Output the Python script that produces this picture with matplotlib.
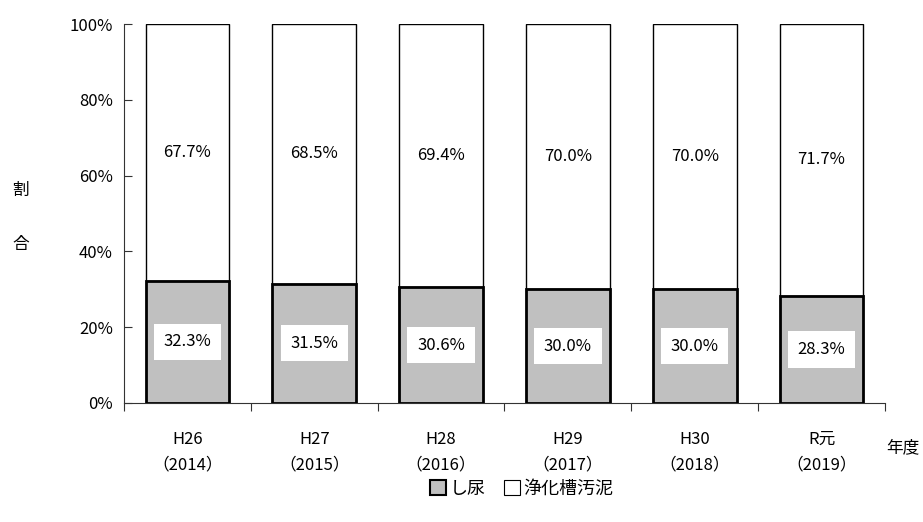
import matplotlib.pyplot as plt
import matplotlib.ticker as mticker
from matplotlib.patches import Patch

plt.rcParams['font.family'] = ['Noto Sans CJK JP', 'DejaVu Sans']

years = ["H26\n（2014）", "H27\n（2015）", "H28\n（2016）", "H29\n（2017）", "H30\n（2018）", "R元\n（2019）"]
shinyo = [32.3, 31.5, 30.6, 30.0, 30.0, 28.3]
jokaso = [67.7, 68.5, 69.4, 70.0, 70.0, 71.7]

fig = plt.figure(figsize=(9.23, 5.22), dpi=100)
ax = fig.add_axes([0.1343, 0.228, 0.8245, 0.726])

x = range(len(years))
ax.bar(x, shinyo, width=0.66, color="#c0c0c0", edgecolor="black", linewidth=2, zorder=3)
ax.bar(x, jokaso, width=0.66, bottom=shinyo, color="white", edgecolor="black", linewidth=1, zorder=2)

for i in x:
    ax.text(i, shinyo[i] / 2, f"{shinyo[i]:.1f}%", ha="center", va="center", fontsize=12, zorder=4,
            bbox=dict(facecolor="white", edgecolor="none", pad=7))
    ax.text(i, shinyo[i] + jokaso[i] / 2, f"{jokaso[i]:.1f}%", ha="center", va="center", fontsize=12, zorder=4)

ax.set_xlim(-0.5, len(years) - 0.5)
ax.set_ylim(0, 100)
ax.yaxis.set_major_locator(mticker.MultipleLocator(20))
ax.yaxis.set_major_formatter(mticker.FuncFormatter(lambda v, p: f"{v:.0f}%"))
ax.set_xticks([i - 0.5 for i in range(len(years) + 1)], minor=False)
ax.set_xticklabels([])
ax.set_xticks(list(x), minor=True)
ax.set_xticklabels(years, minor=True, fontsize=12, linespacing=1.7)
ax.tick_params(axis="x", which="minor", length=0, pad=20)
ax.tick_params(axis="x", which="major", length=6, direction="out", color="#333333")
ax.tick_params(axis="y", length=6, direction="in", labelsize=12, color="#333333", pad=8)

for s in ["top", "right"]:
    ax.spines[s].set_visible(False)
for s in ["left", "bottom"]:
    ax.spines[s].set_color("#333333")

fig.text(0.022, 0.636, "割", fontsize=12, ha="center", va="center")
fig.text(0.022, 0.531, "合", fontsize=12, ha="center", va="center")
fig.text(0.978, 0.142, "年度", fontsize=12, ha="center", va="center")

handles = [Patch(facecolor="#c0c0c0", edgecolor="black", linewidth=1.5, label="し尿"),
           Patch(facecolor="white", edgecolor="black", linewidth=0.8, label="浄化槽汚泥")]
fig.legend(handles=handles, loc="center", bbox_to_anchor=(0.565, 0.063), ncol=2, frameon=False,
           fontsize=13, handlelength=0.9, handleheight=0.9, handletextpad=0.2, columnspacing=1.0)

fig.savefig("out.png", dpi=100)
